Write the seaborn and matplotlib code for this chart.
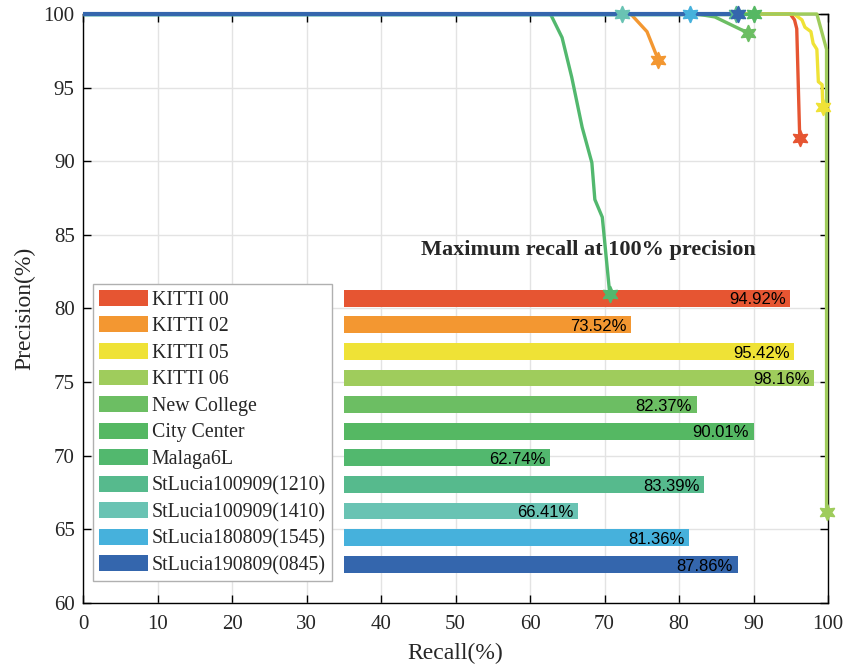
import numpy as np
import pandas as pd
import matplotlib
matplotlib.use("Agg")
import matplotlib.pyplot as plt
from matplotlib.patches import Patch
import seaborn as sns

# Datasets and their colours
datasets = ["KITTI 00", "KITTI 02", "KITTI 05", "KITTI 06", "New College",
            "City Center", "Malaga6L", "StLucia100909(1210)",
            "StLucia100909(1410)", "StLucia180809(1545)", "StLucia190809(0845)"]
colors = ["#E65532", "#F39731", "#EFE236", "#9FCC5C", "#6CBE63",
          "#55B863", "#52B86E", "#56BA8D", "#69C3B3", "#46B1DC", "#3466AD"]

# Maximum recall at 100% precision (%)
max_recall = [94.92, 73.52, 95.42, 98.16, 82.37, 90.01, 62.74, 83.39, 66.41, 81.36, 87.86]

# Precision-recall curves (recall %, precision %)
recall_kitti00 = [0, 94.92, 95.5, 95.8, 96.2]
prec_kitti00 = [100, 100, 99.6, 99.0, 91.6]
recall_kitti02 = [0, 73.52, 75.7, 77.2]
prec_kitti02 = [100, 100, 98.8, 96.9]
recall_kitti05 = [0, 95.42, 96.5, 96.9, 97.7, 98.0, 98.5, 98.7, 99.2, 99.3]
prec_kitti05 = [100, 100, 99.6, 99.1, 98.8, 98.0, 97.6, 95.4, 95.2, 93.7]
recall_kitti06 = [0, 98.16, 98.5, 99.8, 99.8]
prec_kitti06 = [100, 100, 100, 97.6, 66.2]
recall_newcollege = [0, 82.37, 84.8, 89.3]
prec_newcollege = [100, 100, 99.8, 98.7]
recall_citycenter = [0, 90.1]
prec_citycenter = [100, 100]
recall_malaga = [0, 62.74, 64.3, 65.6, 67.0, 68.3, 68.7, 69.7, 70.7]
prec_malaga = [100, 100, 98.4, 95.7, 92.3, 89.9, 87.4, 86.2, 81.0]
recall_stl1210 = [0, 87.6]
prec_stl1210 = [100, 100]
recall_stl1410 = [0, 72.4]
prec_stl1410 = [100, 100]
recall_stl1545 = [0, 81.5]
prec_stl1545 = [100, 100]
recall_stl0845 = [0, 87.9]
prec_stl0845 = [100, 100]

curves = [(recall_kitti00, prec_kitti00), (recall_kitti02, prec_kitti02),
          (recall_kitti05, prec_kitti05), (recall_kitti06, prec_kitti06),
          (recall_newcollege, prec_newcollege), (recall_citycenter, prec_citycenter),
          (recall_malaga, prec_malaga), (recall_stl1210, prec_stl1210),
          (recall_stl1410, prec_stl1410), (recall_stl1545, prec_stl1545),
          (recall_stl0845, prec_stl0845)]

x_ticks = list(range(0, 101, 10))
y_ticks = list(range(60, 101, 5))

sns.set_theme(style="whitegrid")
plt.rcParams["font.family"] = ["Liberation Serif", "DejaVu Serif"]
plt.rcParams["mathtext.fontset"] = "stix"

fig = plt.figure(figsize=(8.62, 6.69), dpi=100)
ax = fig.add_axes([0.0963, 0.0987, 0.8643, 0.8804])
ax.set_facecolor("white")

# PR curves
for name, col, (rc, pr) in zip(datasets, colors, curves):
    df = pd.DataFrame({"Recall": rc, "Precision": pr})
    lw = 3.0 if name == datasets[-1] else 2.4
    sns.lineplot(data=df, x="Recall", y="Precision", color=col, lw=lw,
                 sort=False, estimator=None, ax=ax, clip_on=False,
                 solid_capstyle="butt", zorder=3)

# End-point markers (six-pointed stars)
for col, (rc, pr) in zip(colors, curves):
    ax.plot(rc[-1], pr[-1], marker=(6, 1, 0), markersize=12, color=col,
            markeredgecolor=col, linestyle="none", clip_on=False, zorder=5)

# Horizontal bars summarising maximum recall at 100% precision
bar_left = 35.0
bar_top = 80.7
bar_step = 1.807
bar_y = [bar_top - i * bar_step for i in range(len(datasets))]
for y, v, col in zip(bar_y, max_recall, colors):
    ax.barh(y, v - bar_left, left=bar_left, height=1.15, color=col,
            edgecolor="none", zorder=2)
    ax.text(v - 0.6, y - 0.12, f"{v:.2f}%", ha="right", va="center",
            fontsize=12, family=["Liberation Sans", "DejaVu Sans"],
            color="black", zorder=6)

ax.text(67.8, 83.95, "Maximum recall at 100% precision", ha="center",
        va="center", fontsize=16, fontweight="bold", zorder=6)

# Legend
handles = [Patch(facecolor=c, edgecolor="none") for c in colors]
leg = ax.legend(handles, datasets, loc="upper left",
                bbox_to_anchor=(0.0134, 0.5416), fontsize=14.3,
                frameon=True, fancybox=False, framealpha=1,
                edgecolor="#B0B0B0", handlelength=2.45, handleheight=0.85,
                handletextpad=0.2, labelspacing=0.34, borderpad=0.3,
                borderaxespad=0)
leg.get_frame().set_linewidth(1.0)
leg.set_zorder(4)

ax.set_xlim(0, 100)
ax.set_ylim(60, 100)
ax.set_xticks(x_ticks)
ax.set_yticks(y_ticks)
ax.grid(True, color="#E3E3E3", lw=1.0)
ax.set_axisbelow(True)
for s in ax.spines.values():
    s.set_visible(True)
    s.set_color("black")
    s.set_linewidth(1.0)
ax.tick_params(direction="in", length=6, width=1, color="black",
               labelsize=15, top=True, right=True, bottom=True, left=True,
               pad=6)
ax.tick_params(axis="x", pad=9)
ax.set_xlabel("Recall(%)", fontsize=17, labelpad=6)
ax.set_ylabel("Precision(%)", fontsize=17, labelpad=6)

fig.savefig("out.png", dpi=100, facecolor="white")
